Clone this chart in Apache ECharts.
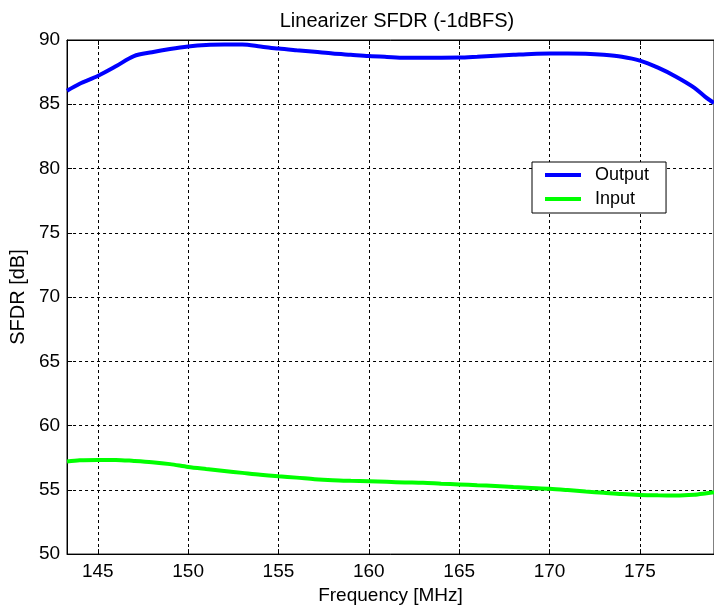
<!DOCTYPE html>
<html>
<head>
<meta charset="utf-8">
<script src="https://cdn.jsdelivr.net/npm/echarts@6/dist/echarts.min.js"></script>
<style>
html,body{margin:0;padding:0;background:#fff;}
#chart{width:714px;height:610px;}
</style>
</head>
<body>
<div id="chart"></div>
<script>
var titleText = 'Linearizer SFDR (-1dBFS)';
var xName = 'Frequency [MHz]';
var yName = 'SFDR [dB]';
var seriesNames = ['Output', 'Input'];
var freq = [143.3,144,145,146,147,148,149,150,151,152,153,154,155,156,157,158,159,160,161,162,163,164,165,166,167,168,169,170,171,172,173,174,175,176,177,178,178.6,179.1];
var outputVals = [86.05,86.6,87.2,87.95,88.75,89.05,89.3,89.5,89.62,89.65,89.65,89.5,89.33,89.2,89.08,88.95,88.85,88.75,88.68,88.62,88.62,88.62,88.63,88.7,88.78,88.85,88.92,88.95,88.95,88.93,88.85,88.7,88.4,87.85,87.15,86.3,85.6,85.1];
var inputVals = [57.2,57.3,57.33,57.33,57.25,57.15,57.0,56.78,56.62,56.47,56.32,56.17,56.05,55.95,55.83,55.75,55.7,55.66,55.62,55.58,55.55,55.48,55.42,55.36,55.3,55.22,55.15,55.08,54.98,54.87,54.77,54.67,54.6,54.57,54.56,54.62,54.72,54.82];
var xMin = 143.3, xMax = 179.1;
var yMin = 50, yMax = 90, yStep = 5;

function zip(xs, ys){ return xs.map(function(x,i){ return [x, ys[i]]; }); }

var font = 'Liberation Sans, Arial, sans-serif';
var chart = echarts.init(document.getElementById('chart'), null, {renderer:'canvas'});
var dash = {color:'#000', width:1, type:[3,3]};
chart.setOption({
  backgroundColor:'#fff',
  animation:false,
  title:{text:titleText, left:392, textAlign:'center', top:6,
    textStyle:{fontFamily:font, fontSize:20, fontWeight:'normal', color:'#000'}},
  legend:{
    data:seriesNames, orient:'vertical', left:532, top:162,
    borderColor:'#000', borderWidth:1, backgroundColor:'#fff',
    padding:[4,17,5,11], itemWidth:36, itemHeight:14, itemGap:6,
    itemStyle:{opacity:0},
    lineStyle:{width:4},
    textStyle:{fontFamily:font, fontSize:18, color:'#000', padding:[0,0,0,9]}
  },
  grid:{left:66, right:0, top:40, bottom:54, show:true, borderColor:'#000', borderWidth:1, backgroundColor:'#fff'},
  xAxis:[{
    type:'value', min:xMin, max:xMax, splitNumber:7, position:'bottom',
    name:xName, nameLocation:'middle', nameGap:31,
    nameTextStyle:{fontFamily:font, fontSize:19, color:'#000'},
    axisLine:{lineStyle:{color:'#000'}},
    axisTick:{inside:true, length:5, lineStyle:{color:'#000'}},
    axisLabel:{fontFamily:font, fontSize:19, color:'#000', margin:8, showMinLabel:false, showMaxLabel:false},
    splitLine:{show:true, lineStyle:dash}
  },{
    type:'value', min:xMin, max:xMax, splitNumber:7, position:'top',
    axisLine:{lineStyle:{color:'#000'}},
    axisTick:{inside:true, length:5, lineStyle:{color:'#000'}},
    axisLabel:{show:false}, splitLine:{show:false}
  }],
  yAxis:{
    type:'value', min:yMin, max:yMax, interval:yStep,
    name:yName, nameLocation:'middle', nameGap:32,
    nameTextStyle:{fontFamily:font, fontSize:20, color:'#000'},
    axisLine:{show:true, lineStyle:{color:'#000'}},
    axisTick:{show:true, inside:true, length:5, lineStyle:{color:'#000'}},
    axisLabel:{fontFamily:font, fontSize:19, color:'#000', margin:7},
    splitLine:{show:true, lineStyle:dash}
  },
  series:[{
    name:seriesNames[0], type:'line', data:zip(freq, outputVals), symbol:'none', smooth:0.3,
    lineStyle:{color:'#0000ff', width:4}, itemStyle:{color:'#0000ff'}
  },{
    name:seriesNames[1], type:'line', data:zip(freq, inputVals), symbol:'none', smooth:0.3,
    lineStyle:{color:'#00ff00', width:4}, itemStyle:{color:'#00ff00'}
  }]
});
</script>
</body>
</html>
